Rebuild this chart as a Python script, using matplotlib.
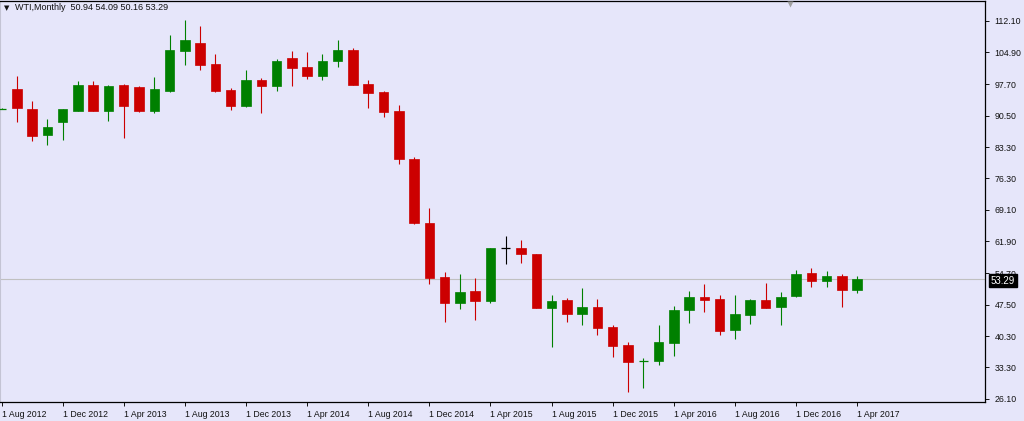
import numpy as np
import pandas as pd
import matplotlib
matplotlib.use("Agg")
import matplotlib.pyplot as plt
import matplotlib.transforms as mtransforms

# WTI monthly candles, Aug 2012 .. Apr 2017
months = pd.date_range("2012-08-01", periods=57, freq="MS")
opens = [92.10, 96.6, 92.0, 86.0, 89.0, 91.65, 97.55, 91.65, 97.55, 97.0, 91.65, 96.0,
         105.1, 107.0, 102.3, 96.4, 92.6, 98.7, 97.3, 103.6, 101.5, 99.6, 103.0, 105.35,
         97.8, 95.8, 91.5, 80.7, 66.1, 53.85, 47.8, 50.6, 48.3, 60.45, 60.45, 59.1,
         46.8, 48.5, 45.5, 47.0, 42.5, 38.3, 34.62, 34.7, 38.85, 46.2, 49.2, 48.7,
         41.7, 45.05, 48.5, 47.0, 49.45, 54.75, 53.0, 54.1, 50.94]
highs = [92.15, 99.6, 93.8, 89.75, 92.0, 98.3, 98.3, 97.5, 97.8, 97.3, 99.3, 108.9,
         112.3, 110.8, 104.6, 96.8, 100.8, 99.1, 103.4, 105.1, 105.0, 104.5, 107.8, 105.9,
         98.7, 96.2, 93.0, 81.1, 69.5, 54.9, 54.4, 53.6, 60.45, 63.2, 62.15, 59.1,
         49.8, 49.1, 51.35, 48.9, 43.0, 39.0, 35.4, 42.8, 47.2, 50.6, 52.3, 49.8,
         49.6, 48.85, 52.5, 50.45, 55.5, 55.9, 55.25, 54.55, 54.09]
lows = [92.05, 89.0, 84.7, 83.9, 85.05, 91.5, 91.5, 89.2, 85.4, 91.4, 91.1, 95.8,
        102.1, 100.8, 95.8, 91.7, 92.5, 91.1, 96.0, 97.2, 98.85, 98.7, 101.5, 97.4,
        92.3, 90.2, 79.4, 65.8, 52.3, 43.5, 46.6, 44.0, 47.9, 56.65, 57.0, 46.8,
        37.9, 43.5, 43.0, 40.6, 35.7, 27.7, 28.5, 33.9, 35.95, 43.4, 45.9, 40.7,
        39.75, 43.2, 46.8, 42.8, 49.3, 51.5, 51.6, 47.0, 50.16]
closes = [92.15, 92.3, 85.8, 87.85, 92.0, 97.55, 91.65, 97.2, 92.8, 91.65, 96.6, 105.35,
          107.8, 102.1, 96.0, 92.6, 98.7, 97.3, 102.85, 101.35, 99.6, 103.0, 105.35, 97.55,
          95.7, 91.3, 80.7, 66.0, 53.6, 47.8, 50.45, 48.3, 60.45, 60.45, 59.1, 46.8,
          48.3, 45.5, 47.0, 42.1, 38.1, 34.5, 34.72, 39.0, 46.4, 49.2, 48.5, 41.5,
          45.3, 48.5, 46.8, 49.3, 54.4, 53.0, 54.1, 50.95, 53.29]

y_ticks = [26.10, 33.30, 40.30, 47.50, 54.70, 61.90, 69.10, 76.30, 83.30, 90.50,
           97.70, 104.90, 112.10]
bid = 53.29
title = "WTI,Monthly  50.94 54.09 50.16 53.29"

BG = "#e6e6fa"
UP = "#008000"
DOWN = "#cc0000"
FONT = ["Liberation Sans", "DejaVu Sans"]

W, H = 1024, 421
fig = plt.figure(figsize=(W / 100, H / 100), dpi=100, facecolor=BG)
ax = fig.add_axes([0, (H - 402) / H, 985 / W, 401.5 / H], facecolor=BG)

x = np.arange(len(months))
o = np.array(opens); c = np.array(closes)
hi = np.array(highs); lo = np.array(lows)
width = 0.62

for i in x:
    if abs(c[i] - o[i]) < 0.3:
        col = UP if c[i] > o[i] else (DOWN if c[i] < o[i] else "#000000")
        ax.vlines(i, lo[i], hi[i], color=col, lw=0.8, zorder=3)
        ax.hlines((o[i] + c[i]) / 2, i - width / 2, i + width / 2, color=col, lw=0.9, zorder=3)
        continue
    col = UP if c[i] > o[i] else DOWN
    ax.vlines(i, lo[i], hi[i], color=col, lw=0.8, zorder=3)
    ax.bar(i, c[i] - o[i], bottom=o[i], width=width, color=col,
           edgecolor=col, linewidth=0.5, zorder=4)

# bid line
ax.axhline(bid, color="#c0c0c0", lw=0.8, zorder=2)

ax.set_xlim(-1.5 / 15.28, 983.5 / 15.28)
ax.set_ylim(112.1 - 381.5 / 4.399, 112.1 + 20.2 / 4.399)

ax.spines["left"].set_color("#c4c4d4")
ax.spines["left"].set_linewidth(0.8)
for s in ["right", "bottom", "top"]:
    ax.spines[s].set_color("#000000")
    ax.spines[s].set_linewidth(0.9)

ax.yaxis.tick_right()
ax.set_yticks(y_ticks)
ax.set_yticklabels([f"{v:.2f}" for v in y_ticks], fontsize=6.3, family=FONT, color="#111111")
ax.tick_params(axis="y", direction="out", length=3, width=0.7, pad=4, colors="#111111")

xt = x[::4]
ax.set_xticks(xt)
ax.set_xticklabels([f"1 {months[i]:%b %Y}" for i in xt], fontsize=6.3, family=FONT, color="#111111")
for lab in ax.get_xticklabels():
    lab.set_horizontalalignment("left")
ax.tick_params(axis="x", direction="out", length=3, width=0.7, pad=2.5, colors="#111111")

# current price box on the price scale
trans = mtransforms.blended_transform_factory(ax.transAxes, ax.transData)
ax.text(991 / 985, bid - 0.3, f"{bid:.2f}", transform=trans, fontsize=7, family=FONT,
        color="white", va="center", ha="left", clip_on=False, zorder=10,
        bbox=dict(boxstyle="square,pad=0.18", fc="black", ec="black"))

# chart-shift marker
ax.plot([790 / 985], [0.992], marker="v", ms=4.5, color="#a0a0a0", mec="none",
        transform=ax.transAxes, clip_on=False, zorder=6)

# header
fig.text(4 / W, 1 - 8 / H, "\u25bc", fontsize=5, family="DejaVu Sans", color="#111111",
         va="center", ha="left")
fig.text(15 / W, 1 - 8 / H, title, fontsize=6.5, family=FONT, color="#111111",
         va="center", ha="left")

fig.savefig("out.png", dpi=100, facecolor=BG)
